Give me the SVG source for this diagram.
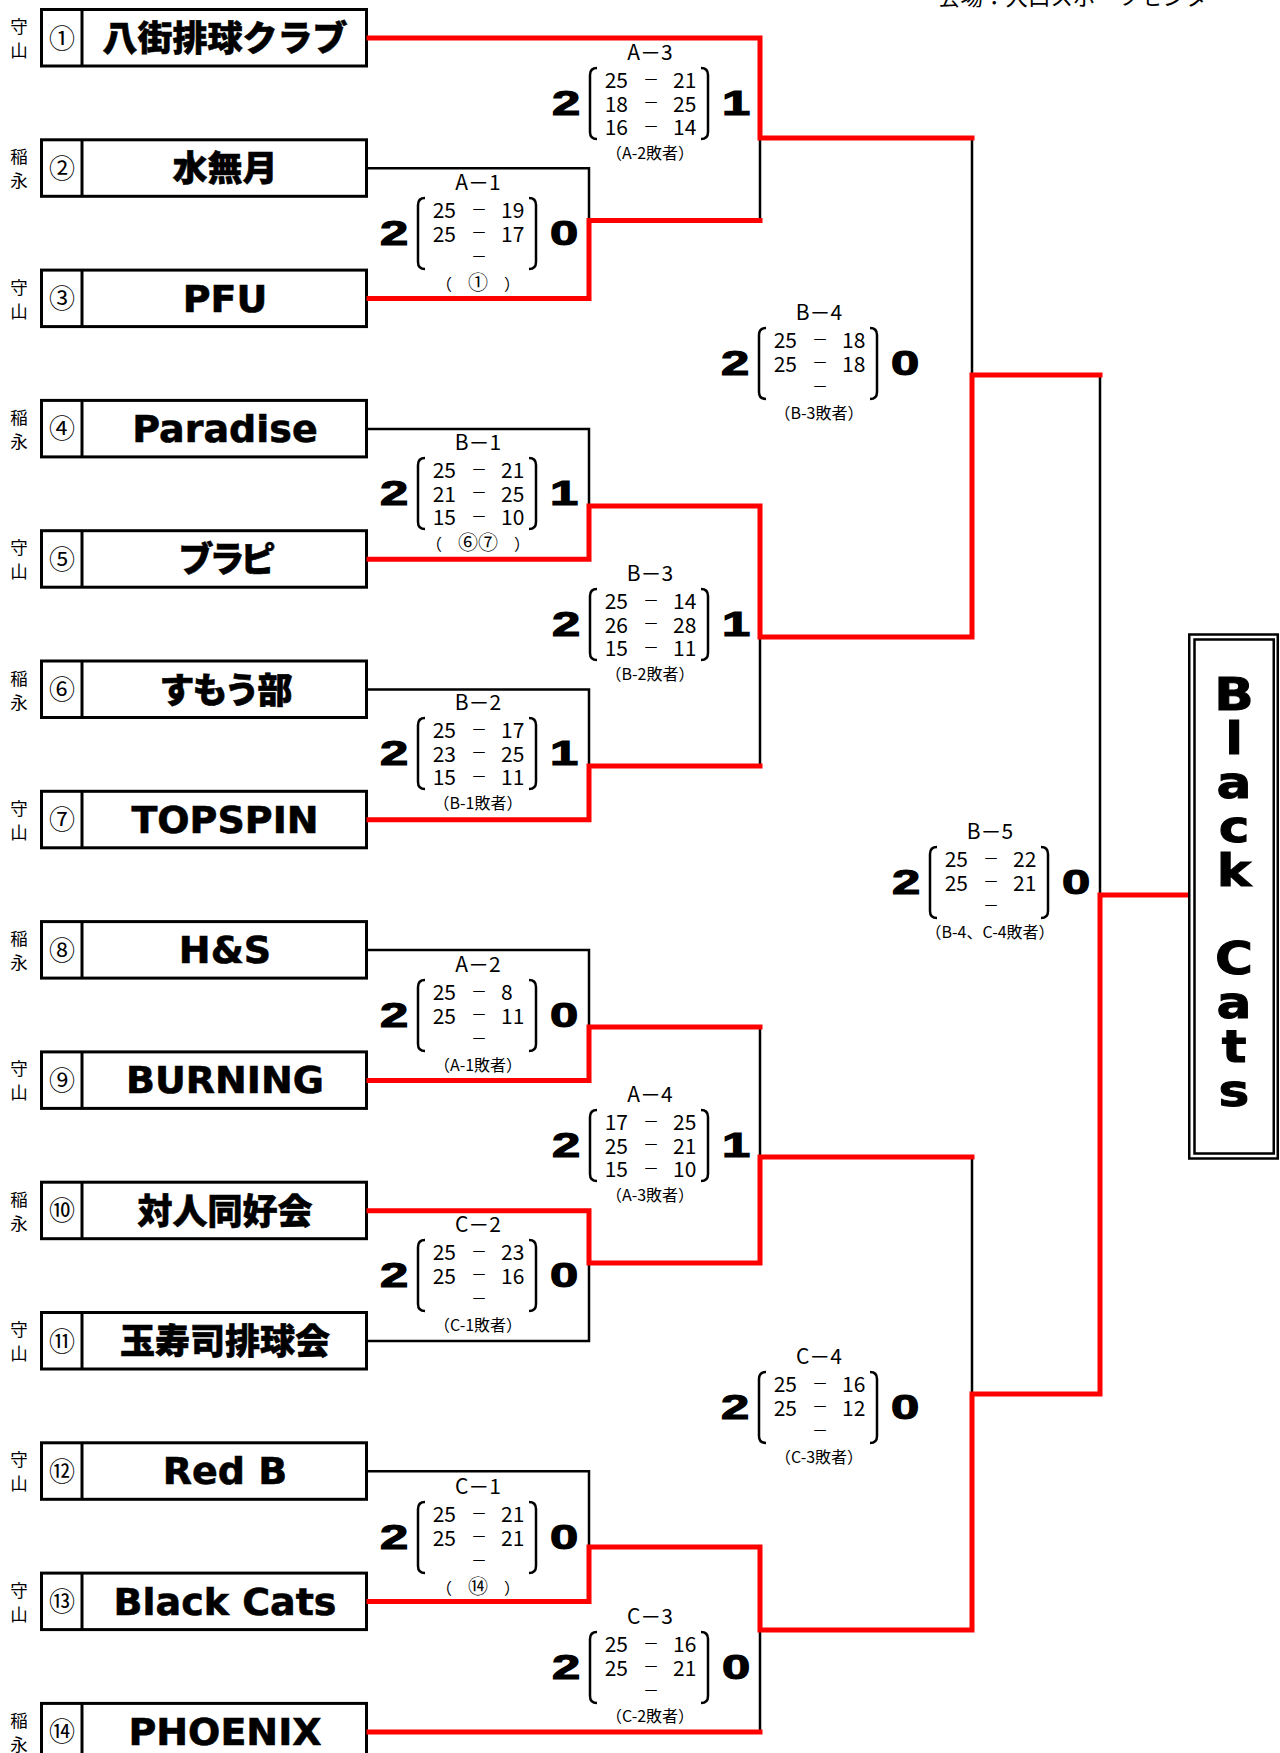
<svg xmlns="http://www.w3.org/2000/svg" width="1280" height="1753" viewBox="0 0 1280 1753">
<style>
.box{fill:#fff;stroke:#000;stroke-width:3}
.div{stroke:#000;stroke-width:3}
.area{font-family:"Noto Sans CJK JP",sans-serif;font-size:17.5px;text-anchor:middle;fill:#000}
.num{font-family:"Noto Sans CJK JP",sans-serif;font-size:26px;text-anchor:middle;fill:#000}
.tl{font-family:"DejaVu Sans","Noto Sans CJK JP",sans-serif;font-weight:bold;font-size:38px;text-anchor:middle;fill:#000;stroke:#000;stroke-width:0.6}
.tj{font-family:"Noto Sans CJK JP",sans-serif;font-weight:900;font-size:35px;text-anchor:middle;fill:#000;stroke:#000;stroke-width:0.6}
.blk{fill:none;stroke:#000;stroke-width:2.5;stroke-linecap:square}
.red{fill:none;stroke:#f00;stroke-width:5;stroke-linecap:square;stroke-linejoin:miter}
.lbl{font-family:"Noto Sans CJK JP","DejaVu Sans",sans-serif;font-size:21px;text-anchor:middle;fill:#000}
.big{font-family:"Liberation Sans",Arial,sans-serif;font-weight:bold;font-size:35px;text-anchor:middle;fill:#000;stroke:#000;stroke-width:1.2}
.br{fill:none;stroke:#000;stroke-width:2.5}
.sl{font-family:"Noto Sans CJK JP",sans-serif;font-size:21px;text-anchor:end;fill:#000}
.sm{font-family:"Noto Sans CJK JP",sans-serif;font-size:16px;text-anchor:middle;fill:#000;transform:translate(0px,-3.5px)}
.sr{font-family:"Noto Sans CJK JP",sans-serif;font-size:21px;text-anchor:start;fill:#000}
.ann{font-family:"Noto Sans CJK JP",sans-serif;font-size:16px;text-anchor:middle;fill:#000}
.cn{font-size:20px}
.vc{font-family:"DejaVu Sans",sans-serif;font-weight:bold;font-size:45px;text-anchor:middle;fill:#000;stroke:#000;stroke-width:1}
.venue{font-family:"Noto Sans CJK JP",sans-serif;font-size:22.5px;fill:#000}
</style>
<rect width="1280" height="1753" fill="#fff"/>
<text class="venue" x="938" y="5">会場：大口スポーツセンター</text>

<g id="team-1"><text class="area" x="19" y="33">守</text><text class="area" x="19" y="57">山</text><rect class="box" x="41.5" y="9.5" width="325" height="56.5"/><line class="div" x1="82" y1="9.5" x2="82" y2="66"/><text class="num" x="62" y="47.5">①</text><text class="tj" x="225" y="51">八街排球クラブ</text></g>
<g id="team-2"><text class="area" x="19" y="163.3">稲</text><text class="area" x="19" y="187.3">永</text><rect class="box" x="41.5" y="139.8" width="325" height="56.5"/><line class="div" x1="82" y1="139.8" x2="82" y2="196.3"/><text class="num" x="62" y="177.8">②</text><text class="tj" x="225" y="181.3">水無月</text></g>
<g id="team-3"><text class="area" x="19" y="293.6">守</text><text class="area" x="19" y="317.6">山</text><rect class="box" x="41.5" y="270.1" width="325" height="56.5"/><line class="div" x1="82" y1="270.1" x2="82" y2="326.6"/><text class="num" x="62" y="308.1">③</text><text class="tl" x="225" y="311.6">PFU</text></g>
<g id="team-4"><text class="area" x="19" y="423.9">稲</text><text class="area" x="19" y="447.9">永</text><rect class="box" x="41.5" y="400.4" width="325" height="56.5"/><line class="div" x1="82" y1="400.4" x2="82" y2="456.9"/><text class="num" x="62" y="438.4">④</text><text class="tl" x="225" y="441.9">Paradise</text></g>
<g id="team-5"><text class="area" x="19" y="554.2">守</text><text class="area" x="19" y="578.2">山</text><rect class="box" x="41.5" y="530.7" width="325" height="56.5"/><line class="div" x1="82" y1="530.7" x2="82" y2="587.2"/><text class="num" x="62" y="568.7">⑤</text><text class="tj" x="225" y="572.2" style="letter-spacing:-4px">ブラピ</text></g>
<g id="team-6"><text class="area" x="19" y="684.5">稲</text><text class="area" x="19" y="708.5">永</text><rect class="box" x="41.5" y="661" width="325" height="56.5"/><line class="div" x1="82" y1="661" x2="82" y2="717.5"/><text class="num" x="62" y="699">⑥</text><text class="tj" x="225" y="702.5" style="letter-spacing:-2px">すもう部</text></g>
<g id="team-7"><text class="area" x="19" y="814.8">守</text><text class="area" x="19" y="838.8">山</text><rect class="box" x="41.5" y="791.3" width="325" height="56.5"/><line class="div" x1="82" y1="791.3" x2="82" y2="847.8"/><text class="num" x="62" y="829.3">⑦</text><text class="tl" x="225" y="832.8">TOPSPIN</text></g>
<g id="team-8"><text class="area" x="19" y="945.1">稲</text><text class="area" x="19" y="969.1">永</text><rect class="box" x="41.5" y="921.6" width="325" height="56.5"/><line class="div" x1="82" y1="921.6" x2="82" y2="978.1"/><text class="num" x="62" y="959.6">⑧</text><text class="tl" x="225" y="963.1">H&amp;S</text></g>
<g id="team-9"><text class="area" x="19" y="1075.4">守</text><text class="area" x="19" y="1099.4">山</text><rect class="box" x="41.5" y="1051.9" width="325" height="56.5"/><line class="div" x1="82" y1="1051.9" x2="82" y2="1108.4"/><text class="num" x="62" y="1089.9">⑨</text><text class="tl" x="225" y="1093.4">BURNING</text></g>
<g id="team-10"><text class="area" x="19" y="1205.7">稲</text><text class="area" x="19" y="1229.7">永</text><rect class="box" x="41.5" y="1182.2" width="325" height="56.5"/><line class="div" x1="82" y1="1182.2" x2="82" y2="1238.7"/><text class="num" x="62" y="1220.2">⑩</text><text class="tj" x="225" y="1223.7">対人同好会</text></g>
<g id="team-11"><text class="area" x="19" y="1336">守</text><text class="area" x="19" y="1360">山</text><rect class="box" x="41.5" y="1312.5" width="325" height="56.5"/><line class="div" x1="82" y1="1312.5" x2="82" y2="1369"/><text class="num" x="62" y="1350.5">⑪</text><text class="tj" x="225" y="1354">玉寿司排球会</text></g>
<g id="team-12"><text class="area" x="19" y="1466.3">守</text><text class="area" x="19" y="1490.3">山</text><rect class="box" x="41.5" y="1442.8" width="325" height="56.5"/><line class="div" x1="82" y1="1442.8" x2="82" y2="1499.3"/><text class="num" x="62" y="1480.8">⑫</text><text class="tl" x="225" y="1484.3">Red B</text></g>
<g id="team-13"><text class="area" x="19" y="1596.6">守</text><text class="area" x="19" y="1620.6">山</text><rect class="box" x="41.5" y="1573.1" width="325" height="56.5"/><line class="div" x1="82" y1="1573.1" x2="82" y2="1629.6"/><text class="num" x="62" y="1611.1">⑬</text><text class="tl" x="225" y="1614.6">Black Cats</text></g>
<g id="team-14"><text class="area" x="19" y="1726.9">稲</text><text class="area" x="19" y="1750.9">永</text><rect class="box" x="41.5" y="1703.4" width="325" height="56.5"/><line class="div" x1="82" y1="1703.4" x2="82" y2="1759.9"/><text class="num" x="62" y="1741.4">⑭</text><text class="tl" x="225" y="1744.9">PHOENIX</text></g>

<g id="connectors">
<path class="blk" d="M368,168.3H589V220.5"/>
<path class="blk" d="M760,138V220.5"/>
<path class="blk" d="M368,428.9H589V506"/>
<path class="blk" d="M368,689.5H589V766"/>
<path class="blk" d="M760,637V766"/>
<path class="blk" d="M972,138V375"/>
<path class="blk" d="M1100,375V895"/>
<path class="blk" d="M368,950.1H589V1027"/>
<path class="blk" d="M760,1027V1157"/>
<path class="blk" d="M368,1341H589V1263"/>
<path class="blk" d="M972,1157V1394"/>
<path class="blk" d="M368,1471.3H589V1547"/>
<path class="blk" d="M760,1630V1731.9"/>
<path class="red" d="M369,38H760V138H972"/>
<path class="red" d="M369,298.6H589V220.5H760"/>
<path class="red" d="M369,559.2H589V506H760V637H972V375H1100"/>
<path class="red" d="M369,819.8H589V766H760"/>
<path class="red" d="M369,1080.4H589V1027H760"/>
<path class="red" d="M369,1210.7H589V1263H760V1157H972"/>
<path class="red" d="M369,1601.6H589V1547H760V1630H972V1394H1100V895H1187"/>
<path class="red" d="M369,1731.9H760"/>
</g>

<g id="match-A3">
<text class="lbl" x="650" y="60">A－3</text>
<text class="big" transform="translate(566,115) scale(1.45,1)">2</text>
<text class="big" transform="translate(736,115) scale(1.45,1)">1</text>
<path class="br" d="M597,68Q590,68 590,75V132Q590,139 597,139M701,68Q708,68 708,75V132Q708,139 701,139"/>
<text class="sl" x="628" y="88">25</text><text class="sm" x="651" y="88">－</text><text class="sr" x="673" y="88">21</text>
<text class="sl" x="628" y="111.7">18</text><text class="sm" x="651" y="111.7">－</text><text class="sr" x="673" y="111.7">25</text>
<text class="sl" x="628" y="135.4">16</text><text class="sm" x="651" y="135.4">－</text><text class="sr" x="673" y="135.4">14</text>
<text class="ann" x="650" y="159">（A-2敗者）</text>
</g>
<g id="match-A1">
<text class="lbl" x="478" y="190">A－1</text>
<text class="big" transform="translate(394,245) scale(1.45,1)">2</text>
<text class="big" transform="translate(564,245) scale(1.45,1)">0</text>
<path class="br" d="M425,198Q418,198 418,205V262Q418,269 425,269M529,198Q536,198 536,205V262Q536,269 529,269"/>
<text class="sl" x="456" y="218">25</text><text class="sm" x="479" y="218">－</text><text class="sr" x="501" y="218">19</text>
<text class="sl" x="456" y="241.7">25</text><text class="sm" x="479" y="241.7">－</text><text class="sr" x="501" y="241.7">17</text>
<text class="sm" x="479" y="265.4">－</text>
<text class="ann" x="478" y="290">（&#x2003;<tspan class="cn">①</tspan>&#x2003;）</text>
</g>
<g id="match-B4">
<text class="lbl" x="819" y="320">B－4</text>
<text class="big" transform="translate(735,375) scale(1.45,1)">2</text>
<text class="big" transform="translate(905,375) scale(1.45,1)">0</text>
<path class="br" d="M766,328Q759,328 759,335V392Q759,399 766,399M870,328Q877,328 877,335V392Q877,399 870,399"/>
<text class="sl" x="797" y="348">25</text><text class="sm" x="820" y="348">－</text><text class="sr" x="842" y="348">18</text>
<text class="sl" x="797" y="371.7">25</text><text class="sm" x="820" y="371.7">－</text><text class="sr" x="842" y="371.7">18</text>
<text class="sm" x="820" y="395.4">－</text>
<text class="ann" x="819" y="419">（B-3敗者）</text>
</g>
<g id="match-B1">
<text class="lbl" x="478" y="450">B－1</text>
<text class="big" transform="translate(394,505) scale(1.45,1)">2</text>
<text class="big" transform="translate(564,505) scale(1.45,1)">1</text>
<path class="br" d="M425,458Q418,458 418,465V522Q418,529 425,529M529,458Q536,458 536,465V522Q536,529 529,529"/>
<text class="sl" x="456" y="478">25</text><text class="sm" x="479" y="478">－</text><text class="sr" x="501" y="478">21</text>
<text class="sl" x="456" y="501.7">21</text><text class="sm" x="479" y="501.7">－</text><text class="sr" x="501" y="501.7">25</text>
<text class="sl" x="456" y="525.4">15</text><text class="sm" x="479" y="525.4">－</text><text class="sr" x="501" y="525.4">10</text>
<text class="ann" x="478" y="550">（&#x2003;<tspan class="cn">⑥⑦</tspan>&#x2003;）</text>
</g>
<g id="match-B3">
<text class="lbl" x="650" y="581">B－3</text>
<text class="big" transform="translate(566,636) scale(1.45,1)">2</text>
<text class="big" transform="translate(736,636) scale(1.45,1)">1</text>
<path class="br" d="M597,589Q590,589 590,596V653Q590,660 597,660M701,589Q708,589 708,596V653Q708,660 701,660"/>
<text class="sl" x="628" y="609">25</text><text class="sm" x="651" y="609">－</text><text class="sr" x="673" y="609">14</text>
<text class="sl" x="628" y="632.7">26</text><text class="sm" x="651" y="632.7">－</text><text class="sr" x="673" y="632.7">28</text>
<text class="sl" x="628" y="656.4">15</text><text class="sm" x="651" y="656.4">－</text><text class="sr" x="673" y="656.4">11</text>
<text class="ann" x="650" y="680">（B-2敗者）</text>
</g>
<g id="match-B2">
<text class="lbl" x="478" y="710">B－2</text>
<text class="big" transform="translate(394,765) scale(1.45,1)">2</text>
<text class="big" transform="translate(564,765) scale(1.45,1)">1</text>
<path class="br" d="M425,718Q418,718 418,725V782Q418,789 425,789M529,718Q536,718 536,725V782Q536,789 529,789"/>
<text class="sl" x="456" y="738">25</text><text class="sm" x="479" y="738">－</text><text class="sr" x="501" y="738">17</text>
<text class="sl" x="456" y="761.7">23</text><text class="sm" x="479" y="761.7">－</text><text class="sr" x="501" y="761.7">25</text>
<text class="sl" x="456" y="785.4">15</text><text class="sm" x="479" y="785.4">－</text><text class="sr" x="501" y="785.4">11</text>
<text class="ann" x="478" y="809">（B-1敗者）</text>
</g>
<g id="match-B5">
<text class="lbl" x="990" y="839">B－5</text>
<text class="big" transform="translate(906,894) scale(1.45,1)">2</text>
<text class="big" transform="translate(1076,894) scale(1.45,1)">0</text>
<path class="br" d="M937,847Q930,847 930,854V911Q930,918 937,918M1041,847Q1048,847 1048,854V911Q1048,918 1041,918"/>
<text class="sl" x="968" y="867">25</text><text class="sm" x="991" y="867">－</text><text class="sr" x="1013" y="867">22</text>
<text class="sl" x="968" y="890.7">25</text><text class="sm" x="991" y="890.7">－</text><text class="sr" x="1013" y="890.7">21</text>
<text class="sm" x="991" y="914.4">－</text>
<text class="ann" x="990" y="938">（B-4、C-4敗者）</text>
</g>
<g id="match-A2">
<text class="lbl" x="478" y="972">A－2</text>
<text class="big" transform="translate(394,1027) scale(1.45,1)">2</text>
<text class="big" transform="translate(564,1027) scale(1.45,1)">0</text>
<path class="br" d="M425,980Q418,980 418,987V1044Q418,1051 425,1051M529,980Q536,980 536,987V1044Q536,1051 529,1051"/>
<text class="sl" x="456" y="1000">25</text><text class="sm" x="479" y="1000">－</text><text class="sr" x="501" y="1000">8</text>
<text class="sl" x="456" y="1023.7">25</text><text class="sm" x="479" y="1023.7">－</text><text class="sr" x="501" y="1023.7">11</text>
<text class="sm" x="479" y="1047.4">－</text>
<text class="ann" x="478" y="1071">（A-1敗者）</text>
</g>
<g id="match-A4">
<text class="lbl" x="650" y="1102">A－4</text>
<text class="big" transform="translate(566,1157) scale(1.45,1)">2</text>
<text class="big" transform="translate(736,1157) scale(1.45,1)">1</text>
<path class="br" d="M597,1110Q590,1110 590,1117V1174Q590,1181 597,1181M701,1110Q708,1110 708,1117V1174Q708,1181 701,1181"/>
<text class="sl" x="628" y="1130">17</text><text class="sm" x="651" y="1130">－</text><text class="sr" x="673" y="1130">25</text>
<text class="sl" x="628" y="1153.7">25</text><text class="sm" x="651" y="1153.7">－</text><text class="sr" x="673" y="1153.7">21</text>
<text class="sl" x="628" y="1177.4">15</text><text class="sm" x="651" y="1177.4">－</text><text class="sr" x="673" y="1177.4">10</text>
<text class="ann" x="650" y="1201">（A-3敗者）</text>
</g>
<g id="match-C2">
<text class="lbl" x="478" y="1232">C－2</text>
<text class="big" transform="translate(394,1287) scale(1.45,1)">2</text>
<text class="big" transform="translate(564,1287) scale(1.45,1)">0</text>
<path class="br" d="M425,1240Q418,1240 418,1247V1304Q418,1311 425,1311M529,1240Q536,1240 536,1247V1304Q536,1311 529,1311"/>
<text class="sl" x="456" y="1260">25</text><text class="sm" x="479" y="1260">－</text><text class="sr" x="501" y="1260">23</text>
<text class="sl" x="456" y="1283.7">25</text><text class="sm" x="479" y="1283.7">－</text><text class="sr" x="501" y="1283.7">16</text>
<text class="sm" x="479" y="1307.4">－</text>
<text class="ann" x="478" y="1331">（C-1敗者）</text>
</g>
<g id="match-C4">
<text class="lbl" x="819" y="1364">C－4</text>
<text class="big" transform="translate(735,1419) scale(1.45,1)">2</text>
<text class="big" transform="translate(905,1419) scale(1.45,1)">0</text>
<path class="br" d="M766,1372Q759,1372 759,1379V1436Q759,1443 766,1443M870,1372Q877,1372 877,1379V1436Q877,1443 870,1443"/>
<text class="sl" x="797" y="1392">25</text><text class="sm" x="820" y="1392">－</text><text class="sr" x="842" y="1392">16</text>
<text class="sl" x="797" y="1415.7">25</text><text class="sm" x="820" y="1415.7">－</text><text class="sr" x="842" y="1415.7">12</text>
<text class="sm" x="820" y="1439.4">－</text>
<text class="ann" x="819" y="1463">（C-3敗者）</text>
</g>
<g id="match-C1">
<text class="lbl" x="478" y="1494">C－1</text>
<text class="big" transform="translate(394,1549) scale(1.45,1)">2</text>
<text class="big" transform="translate(564,1549) scale(1.45,1)">0</text>
<path class="br" d="M425,1502Q418,1502 418,1509V1566Q418,1573 425,1573M529,1502Q536,1502 536,1509V1566Q536,1573 529,1573"/>
<text class="sl" x="456" y="1522">25</text><text class="sm" x="479" y="1522">－</text><text class="sr" x="501" y="1522">21</text>
<text class="sl" x="456" y="1545.7">25</text><text class="sm" x="479" y="1545.7">－</text><text class="sr" x="501" y="1545.7">21</text>
<text class="sm" x="479" y="1569.4">－</text>
<text class="ann" x="478" y="1594">（&#x2003;<tspan class="cn">⑭</tspan>&#x2003;）</text>
</g>
<g id="match-C3">
<text class="lbl" x="650" y="1624">C－3</text>
<text class="big" transform="translate(566,1679) scale(1.45,1)">2</text>
<text class="big" transform="translate(736,1679) scale(1.45,1)">0</text>
<path class="br" d="M597,1632Q590,1632 590,1639V1696Q590,1703 597,1703M701,1632Q708,1632 708,1639V1696Q708,1703 701,1703"/>
<text class="sl" x="628" y="1652">25</text><text class="sm" x="651" y="1652">－</text><text class="sr" x="673" y="1652">16</text>
<text class="sl" x="628" y="1675.7">25</text><text class="sm" x="651" y="1675.7">－</text><text class="sr" x="673" y="1675.7">21</text>
<text class="sm" x="651" y="1699.4">－</text>
<text class="ann" x="650" y="1722">（C-2敗者）</text>
</g>

<g id="champion">
<rect x="1189.25" y="634.5" width="88.5" height="524" fill="#fff" stroke="#000" stroke-width="2.5"/>
<rect x="1194.5" y="639.5" width="79.25" height="514" fill="none" stroke="#000" stroke-width="2.5"/>
<g transform="translate(1234,0) scale(1.15,1)">
<text class="vc" x="0" y="710">B</text>
<text class="vc" x="0" y="754">l</text>
<text class="vc" x="0" y="798">a</text>
<text class="vc" x="0" y="842">c</text>
<text class="vc" x="0" y="886">k</text>
<text class="vc" x="0" y="974">C</text>
<text class="vc" x="0" y="1018">a</text>
<text class="vc" x="0" y="1062">t</text>
<text class="vc" x="0" y="1106">s</text>
</g>
</g>
</svg>
